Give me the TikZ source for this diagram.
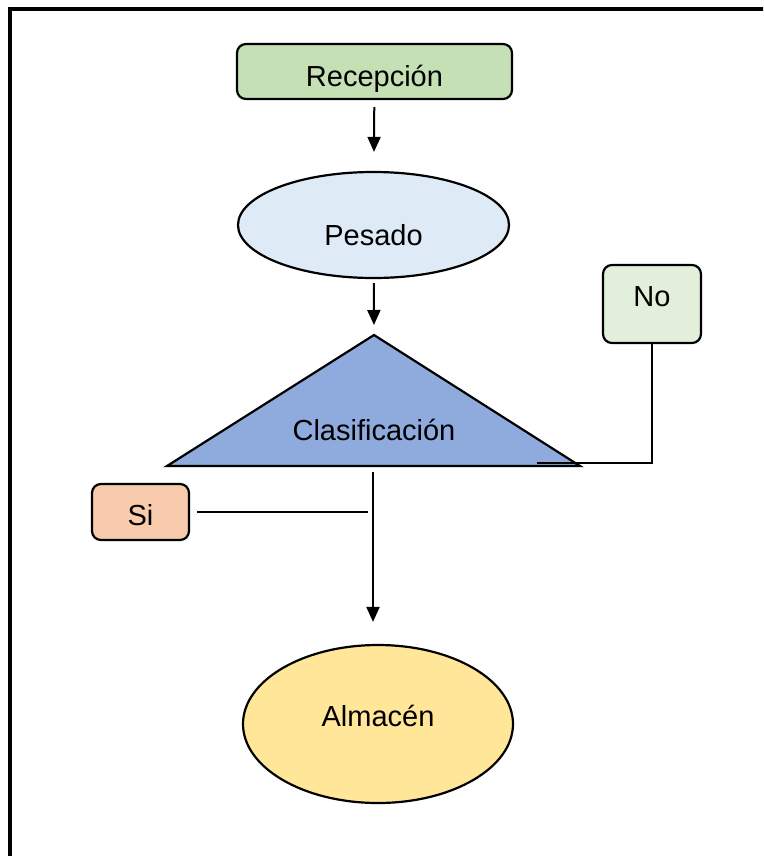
\documentclass[tikz,border=0pt]{standalone}
\usepackage{fontspec}
\setmainfont{Liberation Sans}
\usetikzlibrary{arrows.meta, shapes.geometric}

\definecolor{verde}{HTML}{C5E0B4}
\definecolor{celeste}{HTML}{DEEBF7}
\definecolor{azul}{HTML}{8FAADC}
\definecolor{verdeclaro}{HTML}{E2EFDA}
\definecolor{salmon}{HTML}{F8CBAD}
\definecolor{amarillo}{HTML}{FFE699}

\tikzset{
    caja/.style={draw=black, line width=2.2pt, rounded corners=9pt, inner sep=0pt, font=\fontsize{29}{34}\selectfont},
    ovalo/.style={draw=black, ellipse, line width=2.2pt, inner sep=0pt, font=\fontsize{29}{34}\selectfont},
    flecha/.style={line width=2pt, -{Triangle[length=15pt, width=13pt]}},
    linea/.style={line width=1.4pt}
}

\begin{document}
\begin{tikzpicture}[x=1pt, y=-1pt]
        \useasboundingbox (0, 0) rectangle (763, 856);
        \begin{scope}
            \clip (0, 0) rectangle (763, 856);
            \draw[line width=3.2pt] (10, 9) rectangle (800, 900);
        \end{scope}

        \node[caja, fill=verde, minimum width=275pt, minimum height=55pt, text height=30pt, text depth=0pt] (recepcion) at (374.5, 71.5) {Recepción};
        \node[ovalo, fill=celeste, minimum width=271pt, minimum height=106pt, text height=40pt, text depth=0pt] (pesado) at (373.5, 225) {Pesado};

        % clasificacion
        \coordinate (apice) at (374, 335);
        \coordinate (izq) at (167, 466);
        \coordinate (der) at (580, 466);
        \coordinate (base) at (373, 466);
        \filldraw[fill=azul, draw=black, line width=2.2pt, line join=miter] (apice) -- (der) -- (izq) -- cycle;
        \node[font=\fontsize{29}{34}\selectfont] (clasificacion) at (374, 430) {Clasificación};

        \node[caja, fill=verdeclaro, minimum width=98pt, minimum height=78pt, text height=21pt, text depth=16pt] (no) at (652, 304) {No};
        \node[caja, fill=salmon, minimum width=97pt, minimum height=56pt, text height=27pt, text depth=0pt] (si) at (140.5, 512) {Si};
        \node[ovalo, fill=amarillo, minimum width=270pt, minimum height=158pt, text height=26pt, text depth=21pt] (almacen) at (378, 724) {Almacén};

        \coordinate (finno) at (537, 463);
        \coordinate (finsi) at (368, 512);

        \draw[flecha, shorten <=7pt, shorten >=19pt] (recepcion) -- (pesado);
        \draw[flecha, shorten <=4pt, shorten >=10pt] (pesado) -- (apice);
        \draw[flecha, shorten <=6pt, shorten >=22pt] (base) -- (base |- almacen.north);
        \draw[linea] (no.south) |- (finno);
        \draw[linea, shorten <=7pt] (si.east) -- (finsi);
    \end{tikzpicture}
\end{document}
